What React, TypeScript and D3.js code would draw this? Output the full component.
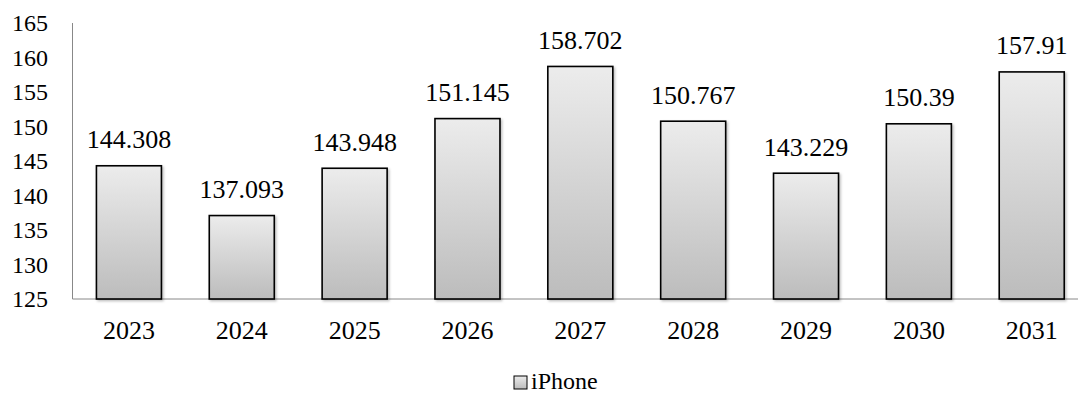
import React from "react";
import * as d3 from "d3";

const categories = ["2023", "2024", "2025", "2026", "2027", "2028", "2029", "2030", "2031"];
const values = [144.308, 137.093, 143.948, 151.145, 158.702, 150.767, 143.229, 150.39, 157.91];
const labels = ["144.308", "137.093", "143.948", "151.145", "158.702", "150.767", "143.229", "150.39", "157.91"];
const yTicks = [125, 130, 135, 140, 145, 150, 155, 160, 165];
const seriesName = "iPhone";

const W = 1078;
const H = 394;
const left = 72.5;
const top = 23;
const bottom = 299;
const FAMILY = '"Liberation Serif", "Times New Roman", serif';
const tickStyle: React.CSSProperties = { fontFamily: FAMILY, fontSize: "24px" };
const labelStyle: React.CSSProperties = { fontFamily: FAMILY, fontSize: "26px" };
const legendStyle: React.CSSProperties = { fontFamily: FAMILY, fontSize: "24px" };

export default function App() {
  const x = d3.scaleBand<string>().domain(categories).range([left, left + 9 * 112.85]).paddingInner(0.424).paddingOuter(0.212);
  const y = d3.scaleLinear().domain([125, 165]).range([bottom, top]);
  return (
    <svg width={W} height={H} style={{ position: "absolute", left: 0, top: 0, background: "#fff" }}>
      <defs>
        <linearGradient id="barGrad" x1="0" y1="0" x2="0" y2="1">
          <stop offset="0%" stopColor="#ececec" />
          <stop offset="100%" stopColor="#bcbcbc" />
        </linearGradient>
        <filter id="shadow" x="-20%" y="-5%" width="140%" height="110%">
          <feDropShadow dx="1.5" dy="1.5" stdDeviation="1.2" floodColor="#000" floodOpacity="0.25" />
        </filter>
      </defs>
      <line x1={left} x2={W} y1={bottom} y2={bottom} stroke="#888" strokeWidth={1} />
      <line x1={left} x2={left} y1={top} y2={bottom} stroke="#888" strokeWidth={1} />
      {yTicks.map((t) => (
        <text key={t} x={48} y={y(t)} dy="0.34em" textAnchor="end" style={tickStyle} fill="#000">
          {t}
        </text>
      ))}
      {categories.map((c, i) => {
        const bx = x(c)!;
        const bw = x.bandwidth();
        const by = y(values[i]);
        return (
          <g key={c}>
            <rect x={bx} y={by} width={bw} height={bottom - by} fill="url(#barGrad)" stroke="#000" strokeWidth={1.6} filter="url(#shadow)" />
            <text x={bx + bw / 2} y={by - 17.5} textAnchor="middle" style={labelStyle} fill="#000">
              {labels[i]}
            </text>
            <text x={bx + bw / 2} y={339} textAnchor="middle" style={labelStyle} fill="#000">
              {c}
            </text>
          </g>
        );
      })}
      <rect x={514} y={376} width={13} height={13} fill="url(#barGrad)" stroke="#000" strokeWidth={1} />
      <text x={531} y={389} style={legendStyle} fill="#000">
        {seriesName}
      </text>
    </svg>
  );
}
